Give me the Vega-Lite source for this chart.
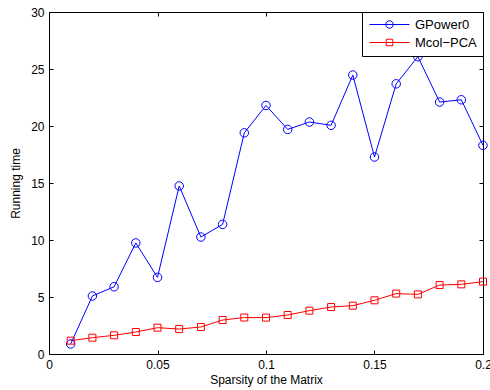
{
  "$schema": "https://vega.github.io/schema/vega-lite/v6.json",
  "width": 434,
  "height": 342,
  "autosize": {"type": "none"},
  "padding": {"left": 49, "top": 12, "right": 7, "bottom": 36},
  "background": "white",
  "config": {
    "view": {"stroke": "black", "strokeWidth": 1},
    "font": "Liberation Sans",
    "axis": {
      "grid": false,
      "domain": false,
      "tickColor": "black",
      "tickSize": -4,
      "labelFont": "Liberation Sans",
      "labelFontSize": 12,
      "labelColor": "black",
      "labelFlush": false,
      "labelOverlap": false,
      "titleFont": "Liberation Sans",
      "titleFontSize": 12,
      "titleFontWeight": "normal",
      "titleColor": "black"
    },
    "legend": {
      "orient": "top-right",
      "offset": 0,
      "padding": 6,
      "strokeColor": "black",
      "fillColor": "white",
      "labelFont": "Liberation Sans",
      "labelFontSize": 13,
      "labelColor": "black",
      "symbolSize": 100,
      "symbolStrokeWidth": 1,
      "symbolFillColor": "transparent",
      "rowPadding": 4,
      "labelOffset": 34
    }
  },
  "data": {
    "values": [
      {"x": 0.01, "t": 0.88, "series": "GPower0"},
      {"x": 0.02, "t": 5.09, "series": "GPower0"},
      {"x": 0.03, "t": 5.9, "series": "GPower0"},
      {"x": 0.04, "t": 9.74, "series": "GPower0"},
      {"x": 0.05, "t": 6.72, "series": "GPower0"},
      {"x": 0.06, "t": 14.74, "series": "GPower0"},
      {"x": 0.07, "t": 10.26, "series": "GPower0"},
      {"x": 0.08, "t": 11.37, "series": "GPower0"},
      {"x": 0.09, "t": 19.4, "series": "GPower0"},
      {"x": 0.1, "t": 21.8, "series": "GPower0"},
      {"x": 0.11, "t": 19.7, "series": "GPower0"},
      {"x": 0.12, "t": 20.35, "series": "GPower0"},
      {"x": 0.13, "t": 20.06, "series": "GPower0"},
      {"x": 0.14, "t": 24.47, "series": "GPower0"},
      {"x": 0.15, "t": 17.28, "series": "GPower0"},
      {"x": 0.16, "t": 23.7, "series": "GPower0"},
      {"x": 0.17, "t": 26.08, "series": "GPower0"},
      {"x": 0.18, "t": 22.1, "series": "GPower0"},
      {"x": 0.19, "t": 22.3, "series": "GPower0"},
      {"x": 0.2, "t": 18.3, "series": "GPower0"},
      {"x": 0.01, "t": 1.17, "series": "Mcol−PCA"},
      {"x": 0.02, "t": 1.43, "series": "Mcol−PCA"},
      {"x": 0.03, "t": 1.64, "series": "Mcol−PCA"},
      {"x": 0.04, "t": 1.93, "series": "Mcol−PCA"},
      {"x": 0.05, "t": 2.31, "series": "Mcol−PCA"},
      {"x": 0.06, "t": 2.19, "series": "Mcol−PCA"},
      {"x": 0.07, "t": 2.37, "series": "Mcol−PCA"},
      {"x": 0.08, "t": 2.98, "series": "Mcol−PCA"},
      {"x": 0.09, "t": 3.2, "series": "Mcol−PCA"},
      {"x": 0.1, "t": 3.19, "series": "Mcol−PCA"},
      {"x": 0.11, "t": 3.42, "series": "Mcol−PCA"},
      {"x": 0.12, "t": 3.8, "series": "Mcol−PCA"},
      {"x": 0.13, "t": 4.12, "series": "Mcol−PCA"},
      {"x": 0.14, "t": 4.24, "series": "Mcol−PCA"},
      {"x": 0.15, "t": 4.71, "series": "Mcol−PCA"},
      {"x": 0.16, "t": 5.3, "series": "Mcol−PCA"},
      {"x": 0.17, "t": 5.23, "series": "Mcol−PCA"},
      {"x": 0.18, "t": 6.05, "series": "Mcol−PCA"},
      {"x": 0.19, "t": 6.11, "series": "Mcol−PCA"},
      {"x": 0.2, "t": 6.35, "series": "Mcol−PCA"}
    ]
  },
  "resolve": {"axis": {"x": "independent", "y": "independent"}},
  "layer": [
    {
      "mark": {"type": "line", "strokeWidth": 1},
      "encoding": {
        "x": {"field": "x", "type": "quantitative", "scale": {"domain": [0, 0.2], "nice": false, "zero": false, "padding": 0},
              "axis": {"orient": "bottom", "values": [0, 0.05, 0.1, 0.15, 0.2], "format": "~g", "labelPadding": 9, "title": "Sparsity of the Matrix", "titlePadding": 4}},
        "y": {"field": "t", "type": "quantitative", "scale": {"domain": [0, 30], "nice": false, "padding": 0},
              "axis": {"orient": "left", "values": [0, 5, 10, 15, 20, 25, 30], "labelPadding": 9, "title": "Running time", "titlePadding": 8}},
        "color": {"field": "series", "type": "nominal", "scale": {"domain": ["GPower0", "Mcol−PCA"], "range": ["#0000ff", "#ff0000"]}, "legend": {"title": null}}
      }
    },
    {
      "transform": [{"filter": "datum.series === 'GPower0'"}],
      "mark": {"type": "point", "shape": "circle", "filled": false, "size": 72, "strokeWidth": 1, "opacity": 1},
      "encoding": {
        "x": {"field": "x", "type": "quantitative", "scale": {"domain": [0, 0.2], "nice": false, "zero": false, "padding": 0}, "axis": null},
        "y": {"field": "t", "type": "quantitative", "scale": {"domain": [0, 30], "nice": false, "padding": 0}, "axis": null},
        "color": {"field": "series", "type": "nominal", "legend": {"title": null}}
      }
    },
    {
      "transform": [{"filter": "datum.series !== 'GPower0'"}],
      "mark": {"type": "point", "shape": "square", "filled": false, "size": 49, "strokeWidth": 1, "opacity": 1},
      "encoding": {
        "x": {"field": "x", "type": "quantitative", "scale": {"domain": [0, 0.2], "nice": false, "zero": false, "padding": 0}, "axis": null},
        "y": {"field": "t", "type": "quantitative", "scale": {"domain": [0, 30], "nice": false, "padding": 0}, "axis": null},
        "color": {"field": "series", "type": "nominal", "legend": {"title": null}}
      }
    },
    {
      "transform": [{"filter": "false"}],
      "mark": {"type": "point", "filled": false, "strokeWidth": 1, "opacity": 1},
      "encoding": {
        "x": {"field": "x", "type": "quantitative", "scale": {"domain": [0, 0.2], "nice": false, "zero": false, "padding": 0}, "axis": {"orient": "top", "values": [0, 0.05, 0.1, 0.15, 0.2], "labels": false, "title": null}},
        "y": {"field": "t", "type": "quantitative", "scale": {"domain": [0, 30], "nice": false, "padding": 0}, "axis": {"orient": "right", "values": [0, 5, 10, 15, 20, 25, 30], "labels": false, "title": null}},
        "color": {"field": "series", "type": "nominal", "legend": {"title": null}},
        "shape": {"field": "series", "type": "nominal",
                  "scale": {"domain": ["GPower0", "Mcol−PCA"], "range": [
                    "M -1 0 L 7 0 M 3.75 0 A 0.75 0.75 0 1 1 2.25 0 A 0.75 0.75 0 1 1 3.75 0 Z",
                    "M -1 0 L 7 0 M 2.35 -0.65 L 3.65 -0.65 L 3.65 0.65 L 2.35 0.65 Z"
                  ]},
                  "legend": {"title": null}}
      }
    }
  ]
}
